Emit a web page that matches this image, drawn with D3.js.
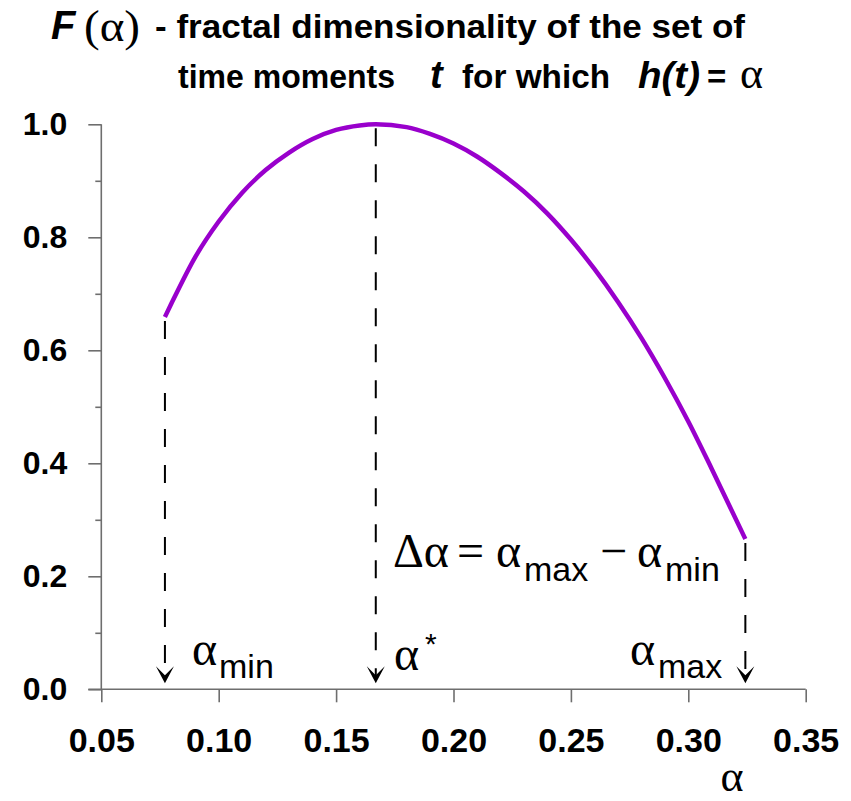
<!DOCTYPE html>
<html lang="en">
<head>
<meta charset="utf-8">
<title>F(alpha) spectrum</title>
<script src="https://cdn.jsdelivr.net/npm/d3@7"></script>
<style>
  body { margin: 0; background: #fff; }
  text { fill: #000; }
</style>
</head>
<body>
<svg id="chart" width="851" height="801"></svg>
<script>
// values
var alphaVals = [0.0771, 0.08, 0.09, 0.10, 0.11, 0.12, 0.13, 0.14, 0.15, 0.16, 0.1669,
                 0.18, 0.19, 0.20, 0.21, 0.22, 0.23, 0.24, 0.25, 0.26, 0.27, 0.28, 0.29, 0.30, 0.31, 0.3243];
var fVals     = [0.659, 0.684, 0.765, 0.828, 0.879, 0.919, 0.950, 0.974, 0.990, 0.998, 1.000,
                 0.995, 0.983, 0.966, 0.943, 0.914, 0.881, 0.842, 0.796, 0.744, 0.686, 0.622, 0.551, 0.474, 0.390, 0.266];
var xTicks = [0.05, 0.10, 0.15, 0.20, 0.25, 0.30, 0.35];
var yTicks = [0.0, 0.2, 0.4, 0.6, 0.8, 1.0];
var yMinor = [0.1, 0.3, 0.5, 0.7, 0.9];

var svg = d3.select("#chart");
var sans = "'Liberation Sans', Arial, sans-serif";
var serif = "'Liberation Serif', 'Times New Roman', serif";

var x = d3.scaleLinear().domain([0.05, 0.35]).range([101.3, 805.7]);
var y = d3.scaleLinear().domain([0, 1]).range([689.3, 124.3]);

var axisCol = "#6e6e6e";

// y axis - major and minor ticks
var yAx = svg.append("g").attr("transform", "translate(" + x(0.05) + ",0)")
  .call(d3.axisLeft(y).tickValues(yTicks).tickSize(13).tickPadding(21).tickFormat(d3.format(".1f")));
var yMin = svg.append("g").attr("transform", "translate(" + x(0.05) + ",0)")
  .call(d3.axisLeft(y).tickValues(yMinor).tickSize(6).tickFormat(""));
yMin.select(".domain").remove();
yAx.select(".domain").attr("d", "M0," + y(1) + "V" + y(0));
yAx.selectAll("text").attr("font-family", sans).attr("font-weight", "bold").attr("font-size", 32);

// x axis
var xAx = svg.append("g").attr("transform", "translate(0," + y(0) + ")")
  .call(d3.axisBottom(x).tickValues(xTicks).tickSize(13).tickPadding(26).tickFormat(d3.format(".2f")));
xAx.select(".domain").attr("d", "M" + (x(0.05) - 13) + ",0H" + x(0.35));
xAx.selectAll("text").attr("font-family", sans).attr("font-weight", "bold").attr("font-size", 34);

svg.selectAll(".domain").attr("stroke", axisCol).attr("stroke-width", 1.6);
svg.selectAll(".tick line").attr("stroke", axisCol).attr("stroke-width", 1.6);

// curve
var pts = alphaVals.map(function(a, i) { return [a, fVals[i]]; });
svg.append("path")
  .datum(pts)
  .attr("fill", "none")
  .attr("stroke", "#9900CC")
  .attr("stroke-width", 4.5)
  .attr("d", d3.line().x(function(d) { return x(d[0]); }).y(function(d) { return y(d[1]); }).curve(d3.curveMonotoneX));

// dashed drops with arrows at alpha_min, alpha*, alpha_max
var iPeak = fVals.indexOf(d3.max(fVals));
var drops = [pts[0], pts[iPeak], pts[pts.length - 1]];
var tipY = y(0) - 6;
drops.forEach(function(p) {
  var px = x(p[0]);
  svg.append("line")
    .attr("x1", px).attr("x2", px)
    .attr("y1", y(p[1]) + 4).attr("y2", tipY - 4)
    .attr("stroke", "#000").attr("stroke-width", 2)
    .attr("stroke-dasharray", "18,18");
  svg.append("path")
    .attr("d", "M" + (px - 9) + "," + (tipY - 17) + " L" + px + "," + tipY + " L" + (px + 9) + "," + (tipY - 17) + " L" + px + "," + (tipY - 8) + " Z")
    .attr("fill", "#000");
});

// labels next to arrows
function alphaSub(xa, base, sub, subX) {
  var t = svg.append("text").attr("y", base);
  t.append("tspan").attr("x", xa).attr("font-family", serif).attr("font-size", 48).text("α");
  t.append("tspan").attr("x", subX).attr("dy", 13).attr("font-family", sans).attr("font-size", 34).text(sub);
  return t;
}
alphaSub(192, 665, "min", 219);
alphaSub(630, 665, "max", 658);
var ts = svg.append("text").attr("x", 394).attr("y", 670).attr("font-family", serif).attr("font-size", 48);
ts.append("tspan").text("α");
ts.append("tspan").attr("x", 425).attr("dy", -16).attr("font-family", sans).attr("font-size", 30).text("*");

// delta alpha formula
var fm = svg.append("text").attr("y", 567).attr("font-family", serif).attr("font-size", 48);
fm.append("tspan").attr("x", 393).text("Δα");
fm.append("tspan").attr("x", 457).text("=");
fm.append("tspan").attr("x", 496).text("α");
fm.append("tspan").attr("x", 524).attr("dy", 14).attr("font-family", sans).attr("font-size", 34).text("max");
fm.append("tspan").attr("x", 600).attr("dy", -14).text("−");
fm.append("tspan").attr("x", 637).text("α");
fm.append("tspan").attr("x", 665).attr("dy", 14).attr("font-family", sans).attr("font-size", 34).text("min");

// x axis title
svg.append("text").attr("x", 732).attr("y", 791).attr("text-anchor", "middle")
  .attr("font-family", serif).attr("font-size", 44).text("α");

// chart title, two lines
svg.append("text").attr("x", 51).attr("y", 39)
  .attr("font-family", sans).attr("font-weight", "bold").attr("font-style", "italic").attr("font-size", 40).text("F");
svg.append("text").attr("x", 84).attr("y", 41)
  .attr("font-family", serif).attr("font-size", 45)
  .attr("textLength", 56).attr("lengthAdjust", "spacingAndGlyphs").text("(α)");
svg.append("text").attr("x", 155).attr("y", 38)
  .attr("font-family", sans).attr("font-weight", "bold").attr("font-size", 33)
  .attr("textLength", 590).attr("lengthAdjust", "spacingAndGlyphs").text("- fractal dimensionality of the set of");

var t2 = svg.append("text").attr("y", 88).attr("font-family", sans).attr("font-weight", "bold").attr("font-size", 33);
t2.append("tspan").attr("x", 178).attr("textLength", 217).attr("lengthAdjust", "spacingAndGlyphs").text("time moments");
t2.append("tspan").attr("x", 430).attr("font-style", "italic").attr("font-size", 38).text("t");
t2.append("tspan").attr("x", 462).attr("textLength", 148).attr("lengthAdjust", "spacingAndGlyphs").text("for which");
t2.append("tspan").attr("x", 638).attr("font-style", "italic").attr("font-size", 36).attr("textLength", 62).attr("lengthAdjust", "spacingAndGlyphs").text("h(t)");
t2.append("tspan").attr("x", 707).text("=");
t2.append("tspan").attr("x", 740).attr("font-family", serif).attr("font-weight", "normal").attr("font-size", 44).text("α");
</script>
</body>
</html>
